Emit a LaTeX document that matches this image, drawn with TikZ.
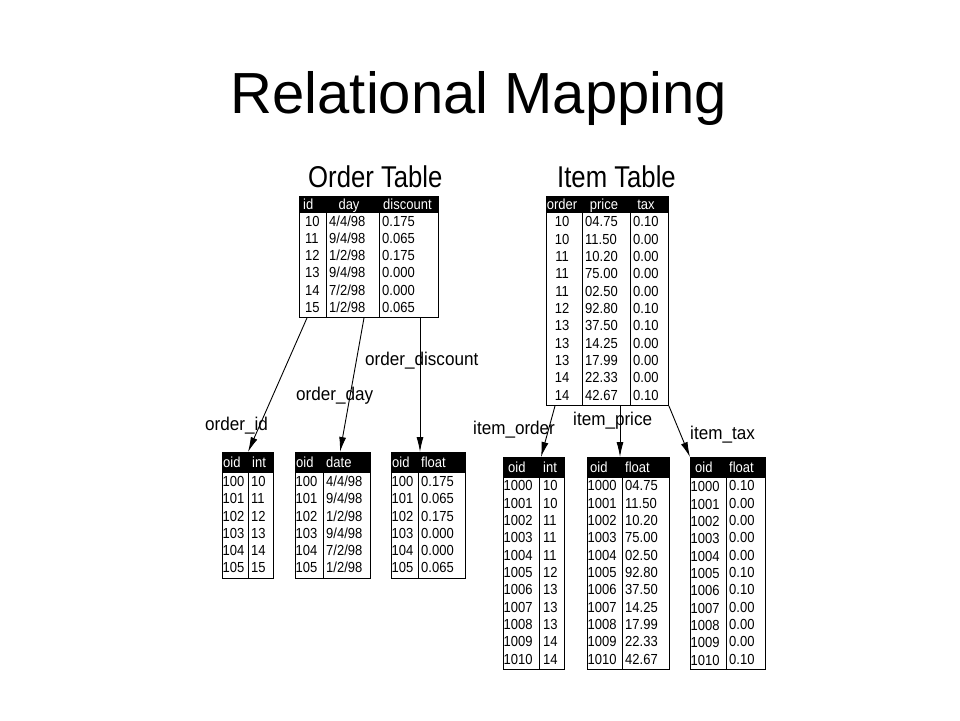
\documentclass[tikz,border=0pt]{standalone}
\usepackage{fontspec}
\setmainfont{Liberation Sans}
\usetikzlibrary{arrows.meta}
\newcommand\vst[2]{\scalebox{1}[#1]{#2}}
\newcommand\tcol[6]{\foreach \v [count=\i from 0] in {#6}{\node[cell,anchor=#4] (#5\i) at (#1,{#2+#3*\i}) {\vst{1.12}{\v}};}}
\begin{document}
\begin{tikzpicture}[x=1pt,y=-1pt,
 cell/.style={inner sep=0pt,font=\fontsize{13}{14}\selectfont},
 head/.style={cell,text=white},
 tbox/.style={draw,line width=0.9pt,inner sep=0pt,anchor=north west},
 sepline/.style={line width=0.9pt},
 ttl/.style={inner sep=0pt,anchor=base west,font=\fontsize{25.7}{28}\selectfont},
 lbl/.style={inner sep=0pt,anchor=base west,font=\fontsize{17.1}{20}\selectfont},
 conn/.style={line width=0.9pt,-{Latex[length=15pt,width=7pt]}}]
\useasboundingbox (0,0) rectangle (960,720);
\node[inner sep=0pt,anchor=base,font=\fontsize{58}{60}\selectfont] (title) at (479,113) {Relational Mapping};

% ---------- Order Table ----------
\node[ttl] (otitle) at (308,187) {\vst{1.17}{Order Table}};
\fill (299,196) rectangle (438,213);
\node[tbox,minimum width=139pt,minimum height=121pt] (ot) at (299,196) {};
\draw[sepline] (326,213) -- (326,317) (379,213) -- (379,317);
\node[head,anchor=base west] (oth1) at (303,209.5) {\vst{1.12}{id}};
\node[head,anchor=base] (oth2) at (349,209.5) {\vst{1.12}{day}};
\node[head,anchor=base west] (oth3) at (383,209.5) {\vst{1.12}{discount}};
\tcol{305}{226}{17.33}{base west}{oa}{10,11,12,13,14,15}
\tcol{329}{226}{17.33}{base west}{ob}{4/4/98,9/4/98,1/2/98,9/4/98,7/2/98,1/2/98}
\tcol{382}{226}{17.33}{base west}{oc}{0.175,0.065,0.175,0.000,0.000,0.065}

% ---------- Item Table ----------
\node[ttl] (ititle) at (557,187) {\vst{1.17}{Item Table}};
\fill (546,196) rectangle (668,213);
\node[tbox,minimum width=122pt,minimum height=209pt] (it) at (546,196) {};
\draw[sepline] (582,213) -- (582,405) (630,213) -- (630,405);
\node[head,anchor=base] (ith1) at (562,209.5) {\vst{1.12}{order}};
\node[head,anchor=base] (ith2) at (604,209.5) {\vst{1.12}{price}};
\node[head,anchor=base] (ith3) at (646,209.5) {\vst{1.12}{tax}};
\tcol{562}{226.7}{17.33}{base}{ia}{10,10,11,11,11,12,13,13,13,14,14}
\tcol{585}{226.7}{17.33}{base west}{ib}{04.75,11.50,10.20,75.00,02.50,92.80,37.50,14.25,17.99,22.33,42.67}
\tcol{633}{226.7}{17.33}{base west}{ic}{0.10,0.00,0.00,0.00,0.00,0.10,0.10,0.00,0.00,0.00,0.10}

% ---------- order_id ----------
\fill (222,452) rectangle (273,473);
\node[tbox,minimum width=51pt,minimum height=126pt] (t1) at (222,452) {};
\draw[sepline] (248,473) -- (248,578);
\node[head,anchor=base west] (t1h1) at (223,467.5) {\vst{1.12}{oid}};
\node[head,anchor=base west] (t1h2) at (252,467.5) {\vst{1.12}{int}};
\tcol{222.5}{486.7}{17.2}{base west}{t1a}{100,101,102,103,104,105}
\tcol{251}{486.7}{17.2}{base west}{t1b}{10,11,12,13,14,15}

% ---------- order_day ----------
\fill (295,452) rectangle (370,473);
\node[tbox,minimum width=75pt,minimum height=126pt] (t2) at (295,452) {};
\draw[sepline] (323,473) -- (323,578);
\node[head,anchor=base west] (t2h1) at (296,467.5) {\vst{1.12}{oid}};
\node[head,anchor=base west] (t2h2) at (326,467.5) {\vst{1.12}{date}};
\tcol{295.5}{486.7}{17.2}{base west}{t2a}{100,101,102,103,104,105}
\tcol{326}{486.7}{17.2}{base west}{t2b}{4/4/98,9/4/98,1/2/98,9/4/98,7/2/98,1/2/98}

% ---------- order_discount ----------
\fill (391,452) rectangle (465,473);
\node[tbox,minimum width=74pt,minimum height=126pt] (t3) at (391,452) {};
\draw[sepline] (418,473) -- (418,578);
\node[head,anchor=base west] (t3h1) at (392,467.5) {\vst{1.12}{oid}};
\node[head,anchor=base west] (t3h2) at (421,467.5) {\vst{1.12}{float}};
\tcol{391.5}{486.7}{17.2}{base west}{t3a}{100,101,102,103,104,105}
\tcol{421}{486.7}{17.2}{base west}{t3b}{0.175,0.065,0.175,0.000,0.000,0.065}

% ---------- item_order ----------
\fill (503,457) rectangle (564,478);
\node[tbox,minimum width=61pt,minimum height=212pt] (t4) at (503,457) {};
\draw[sepline] (539,478) -- (539,669);
\node[head,anchor=base west] (t4h1) at (508,472.5) {\vst{1.12}{oid}};
\node[head,anchor=base west] (t4h2) at (543,472.5) {\vst{1.12}{int}};
\tcol{503.5}{490.7}{17.33}{base west}{t4a}{1000,1001,1002,1003,1004,1005,1006,1007,1008,1009,1010}
\tcol{543}{490.7}{17.33}{base west}{t4b}{10,10,11,11,11,12,13,13,13,14,14}

% ---------- item_price ----------
\fill (587,457) rectangle (669,478);
\node[tbox,minimum width=82pt,minimum height=212pt] (t5) at (587,457) {};
\draw[sepline] (622,478) -- (622,669);
\node[head,anchor=base west] (t5h1) at (590,472.5) {\vst{1.12}{oid}};
\node[head,anchor=base west] (t5h2) at (625,472.5) {\vst{1.12}{float}};
\tcol{587.5}{490.7}{17.33}{base west}{t5a}{1000,1001,1002,1003,1004,1005,1006,1007,1008,1009,1010}
\tcol{625}{490.7}{17.33}{base west}{t5b}{04.75,11.50,10.20,75.00,02.50,92.80,37.50,14.25,17.99,22.33,42.67}

% ---------- item_tax ----------
\fill (690,457) rectangle (765,478);
\node[tbox,minimum width=75pt,minimum height=212pt] (t6) at (690,457) {};
\draw[sepline] (726,478) -- (726,669);
\node[head,anchor=base west] (t6h1) at (695,472.5) {\vst{1.12}{oid}};
\node[head,anchor=base west] (t6h2) at (729,472.5) {\vst{1.12}{float}};
\tcol{690.5}{491.7}{17.33}{base west}{t6a}{1000,1001,1002,1003,1004,1005,1006,1007,1008,1009,1010}
\tcol{729}{490.7}{17.33}{base west}{t6b}{0.10,0.00,0.00,0.00,0.00,0.10,0.10,0.00,0.00,0.00,0.10}

% ---------- connectors ----------
\coordinate (s1) at ([xshift=8pt]ot.south west);
\coordinate (s2) at ([xshift=65pt]ot.south west);
\coordinate (s3) at ([xshift=121pt]ot.south west);
\coordinate (e1) at ([xshift=26pt]t1.north west);
\coordinate (e2) at ([xshift=45pt]t2.north west);
\coordinate (e3) at ([xshift=29pt]t3.north west);
\coordinate (s4) at ([xshift=9pt]it.south west);
\coordinate (s5) at ([xshift=74pt]it.south west);
\coordinate (s6) at (it.south east);
\coordinate (e4) at ([xshift=38pt]t4.north west);
\coordinate (e5) at ([xshift=33pt]t5.north west);
\coordinate (e6) at (t6.north west);
\draw[conn] (s1) -- (e1);
\draw[conn] (s2) -- (e2);
\draw[conn] (s3) -- (e3);
\draw[conn] (s4) -- (e4);
\draw[conn] (s5) -- (e5);
\draw[conn] (s6) -- (e6);

\node[lbl] (l1) at (205,430) {\vst{1.08}{order\_id}};
\node[lbl] (l2) at (296,400) {\vst{1.08}{order\_day}};
\node[lbl] (l3) at (365,365) {\vst{1.08}{order\_discount}};
\node[lbl] (l4) at (473,434) {\vst{1.08}{item\_order}};
\node[lbl] (l5) at (573,425.7) {\vst{1.08}{item\_price}};
\node[lbl] (l6) at (690,439) {\vst{1.08}{item\_tax}};
\end{tikzpicture}
\end{document}
